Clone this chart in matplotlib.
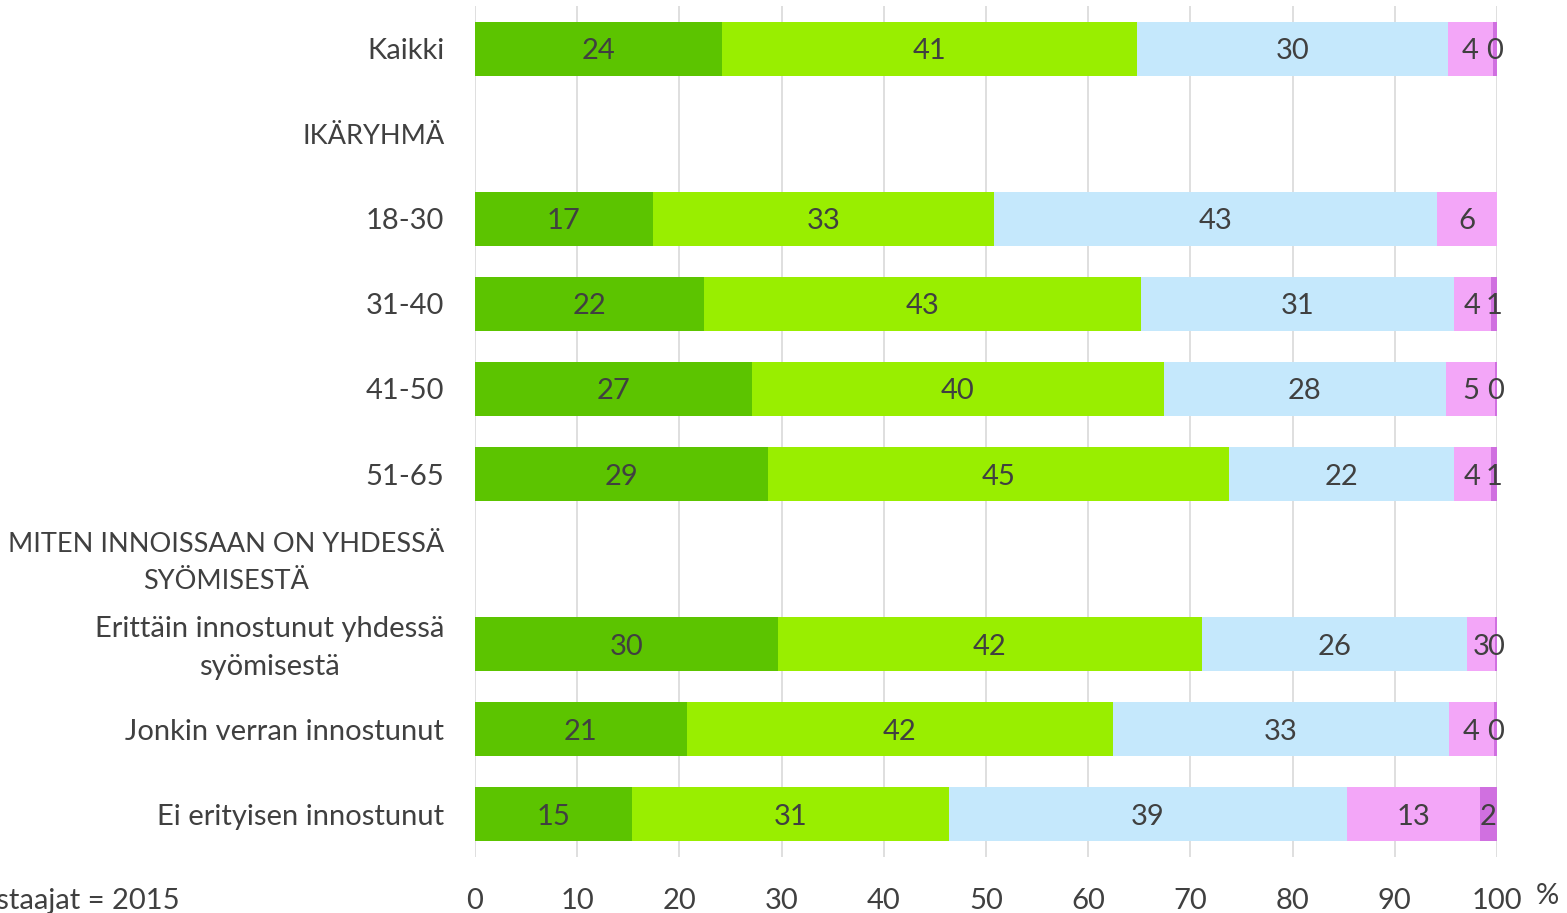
import numpy as np
import matplotlib
matplotlib.use('Agg')
import matplotlib.pyplot as plt
import matplotlib.ticker as ticker
import matplotlib.transforms as mtransforms

# rows from top to bottom, headings have no bars
categories = ['Kaikki', 'IKÄRYHMÄ', '18-30', '31-40', '41-50', '51-65',
              'MITEN INNOISSAAN ON YHDESSÄ\nSYÖMISESTÄ',
              'Erittäin innostunut yhdessä\nsyömisestä',
              'Jonkin verran innostunut', 'Ei erityisen innostunut']

# percentages per answer option (NaN = heading row)
nan = np.nan
s1 = [24.2, nan, 17.4, 22.4, 27.1, 28.7, nan, 29.6, 20.7, 15.4]
s2 = [40.6, nan, 33.4, 42.8, 40.3, 45.1, nan, 41.5, 41.7, 31.0]
s3 = [30.4, nan, 43.3, 30.6, 27.6, 22.0, nan, 26.0, 32.9, 38.9]
s4 = [4.4, nan, 5.9, 3.6, 4.8, 3.6, nan, 2.7, 4.4, 13.0]
s5 = [0.4, nan, 0.0, 0.6, 0.2, 0.6, nan, 0.2, 0.3, 1.7]

xticks = [0, 10, 20, 30, 40, 50, 60, 70, 80, 90, 100]
note = 'Vastaajat = 2015'

colors = ['#5CC400', '#99EE00', '#C5E8FC', '#F3A6F8', '#D070E0']
text_color = '#404040'
fs = 21

plt.rcParams['font.family'] = ['Lato', 'DejaVu Sans']

fig = plt.figure(figsize=(15.67, 9.13), dpi=100)
ax = fig.add_axes([475/1567, 1 - 857/913, (1497-475)/1567, (857-6)/913])

y = np.arange(len(categories))
left = np.zeros(len(categories))
for vals, col in zip([s1, s2, s3, s4, s5], colors):
    v = np.array(vals, dtype=float)
    w = np.nan_to_num(v)
    ax.barh(y, w, left=left, height=0.635, color=col, zorder=2)
    # value labels in the middle of each segment
    for yi, (l, wi, raw) in enumerate(zip(left, w, v)):
        if np.isnan(raw) or wi == 0:
            continue
        ax.text(l + wi / 2, yi, '%d' % round(wi), ha='center', va='center_baseline',
                fontsize=fs, color=text_color, zorder=3)
    left = left + w

ax.set_xlim(0, 100)
ax.set_ylim(len(categories) - 0.5, -0.5)
ax.set_xticks(xticks)
ax.set_yticks(y)
ax.set_yticklabels(categories, multialignment='center', linespacing=1.6,
                   va='center_baseline')
ax.xaxis.set_major_formatter(ticker.FormatStrFormatter('%d'))
ax.grid(axis='x', color='#D9D9D9', linewidth=1.2, zorder=0)
ax.set_axisbelow(True)
for sp in ax.spines.values():
    sp.set_visible(False)
ax.tick_params(axis='x', length=0, pad=22, labelsize=fs, labelcolor=text_color)
ax.tick_params(axis='y', length=0, pad=22, labelsize=fs, labelcolor=text_color)

# headings are upper case: a bit smaller so they fit; two-line labels nudged up
for lab in ax.get_yticklabels():
    txt = lab.get_text()
    if txt.isupper():
        lab.set_fontsize(19.5)
    if '\n' in txt:
        lab.set_transform(mtransforms.offset_copy(lab.get_transform(), fig=fig,
                                                  x=0, y=5, units='dots'))

fig.text(1547/1567, 1 - 893/913, '%', ha='center', va='center_baseline',
         fontsize=fs, color=text_color)
fig.text(180/1567, 1 - 898/913, note, ha='right', va='center_baseline',
         fontsize=fs, color=text_color)

plt.savefig('out.png', dpi=100)
